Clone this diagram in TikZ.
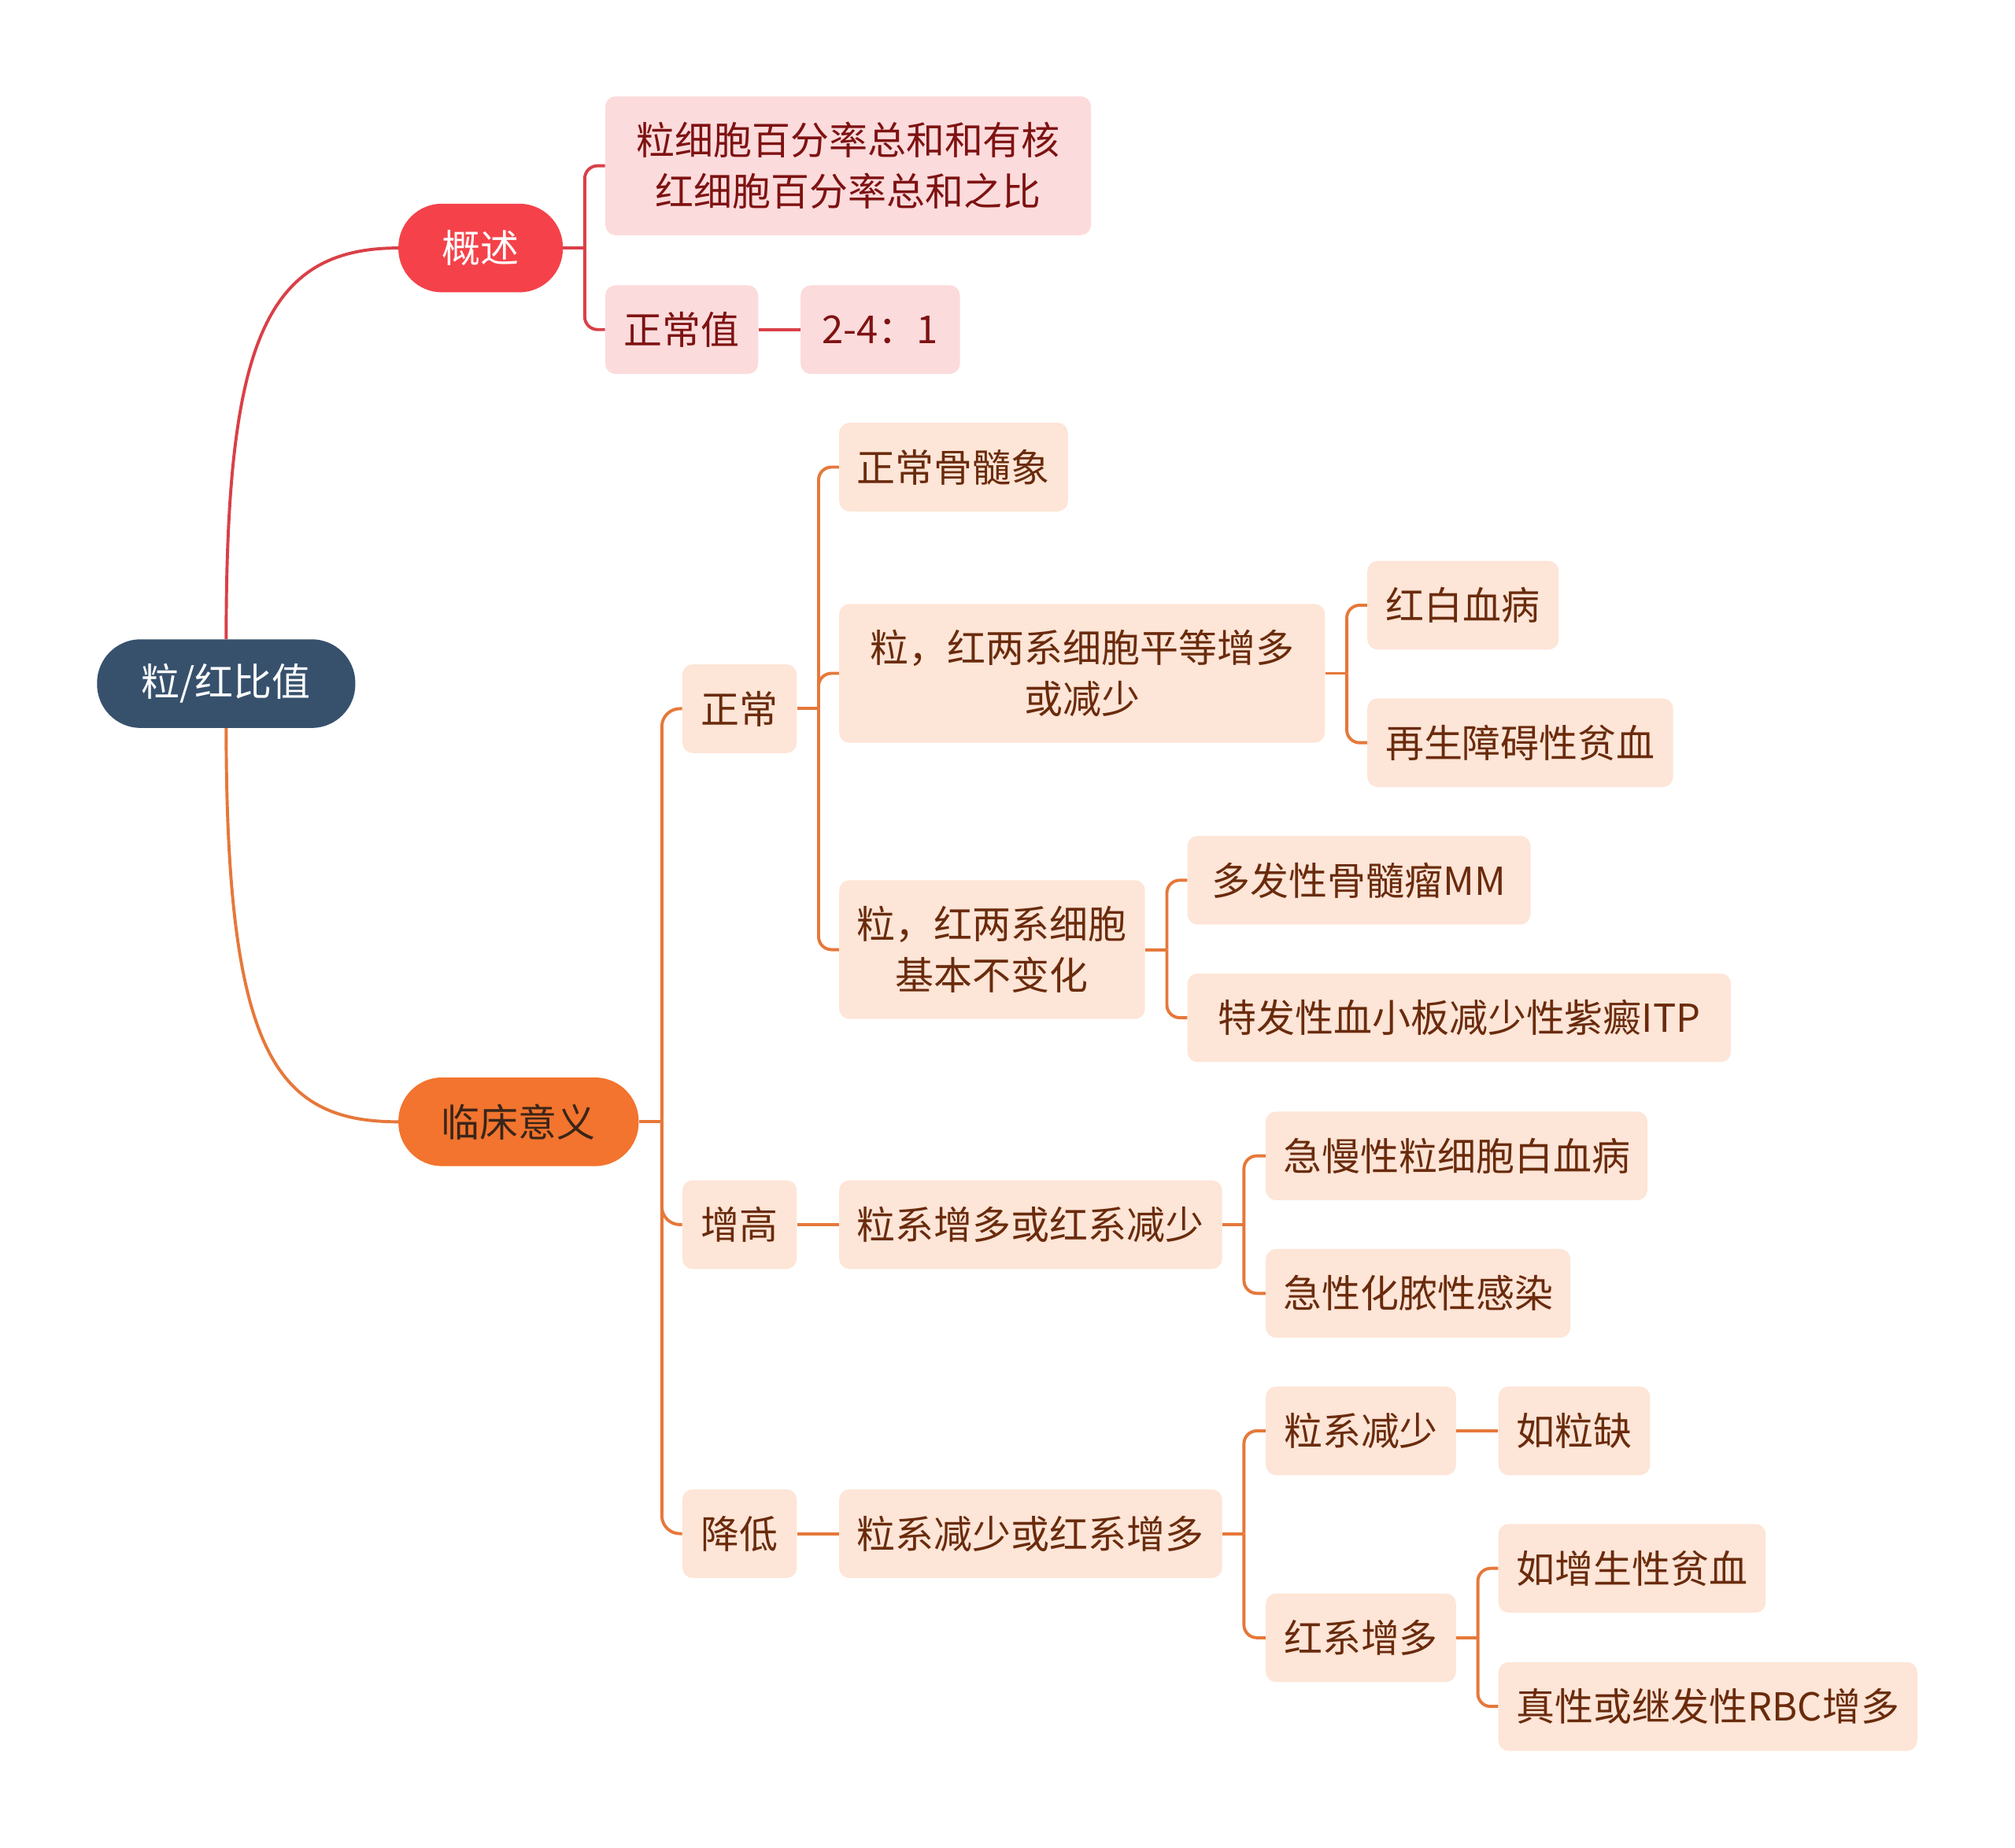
\documentclass[tikz,border=0pt]{standalone}
\usepackage{fontspec}
\setmainfont{Noto Sans CJK SC}
\definecolor{rootc}{HTML}{37516D}
\definecolor{redc}{HTML}{F5424A}
\definecolor{redline}{HTML}{D94048}
\definecolor{pinkc}{HTML}{FCDBDC}
\definecolor{redtxt}{HTML}{7E1212}
\definecolor{orgc}{HTML}{F2742E}
\definecolor{orgtxt}{HTML}{3A2518}
\definecolor{orgline}{HTML}{E6783A}
\definecolor{peachc}{HTML}{FDE5D7}
\definecolor{browntxt}{HTML}{6A2B0C}
\begin{document}
\begin{tikzpicture}[x=1pt,y=-1pt,
  base/.style={inner sep=0pt,align=center,font=\fontsize{30}{40}\selectfont},
  rootbox/.style={base,fill=rootc,text=white,rounded corners=34pt,minimum height=69pt},
  l1red/.style={base,fill=redc,text=white,rounded corners=34pt,minimum height=69pt},
  l1org/.style={base,fill=orgc,text=orgtxt,rounded corners=34pt,minimum height=69pt},
  pinkbox/.style={base,fill=pinkc,text=redtxt,rounded corners=8pt,minimum height=69pt},
  peachbox/.style={base,fill=peachc,text=browntxt,rounded corners=8pt,minimum height=69pt},
  rline/.style={draw=redline,line width=2.4pt},
  oline/.style={draw=orgline,line width=2.4pt},
  rc/.style={rounded corners=10pt}]
\useasboundingbox (0,0) rectangle (1568,1438);

% root and level 1
\node[rootbox,minimum width=201pt] (root) at (176,532) {粒/红比值};
\node[l1red,minimum width=128pt] (gs) at (374,193) {概述};
\node[l1org,minimum width=187pt] (lc) at (403.5,873) {临床意义};

% red branch
\node[pinkbox,minimum width=378pt,minimum height=108pt] (def) at (660,129) {粒细胞百分率总和和有核\\红细胞百分率总和之比};
\node[pinkbox,minimum width=119pt] (zcz) at (530.5,256.5) {正常值};
\node[pinkbox,minimum width=124pt] (val) at (685,256.5) {2-4：1};

% orange branch level 2
\node[peachbox,minimum width=89pt] (zc) at (575.5,551.5) {正常};
\node[peachbox,minimum width=89pt] (zg) at (575.5,953) {增高};
\node[peachbox,minimum width=89pt] (jd) at (575.5,1193.5) {降低};

% under 正常
\node[peachbox,minimum width=178pt] (gsx) at (742,363.5) {正常骨髓象};
\node[peachbox,minimum width=378pt,minimum height=108pt] (pd) at (842,524) {粒，红两系细胞平等增多\\或减少};
\node[peachbox,minimum width=238pt,minimum height=108pt] (bb) at (772,739) {粒，红两系细胞\\基本不变化};
\node[peachbox,minimum width=149pt] (hb) at (1138.5,471) {红白血病};
\node[peachbox,minimum width=238pt] (zs) at (1183,578) {再生障碍性贫血};
\node[peachbox,minimum width=267pt] (mm) at (1057.5,685) {多发性骨髓瘤MM};
\node[peachbox,minimum width=423pt] (itp) at (1135.5,792) {特发性血小板减少性紫癜ITP};

% under 增高
\node[peachbox,minimum width=298pt] (zd) at (802,953) {粒系增多或红系减少};
\node[peachbox,minimum width=297pt] (jm) at (1133.5,899.5) {急慢性粒细胞白血病};
\node[peachbox,minimum width=237pt] (hn) at (1103.5,1006.5) {急性化脓性感染};

% under 降低
\node[peachbox,minimum width=298pt] (jz) at (802,1193.5) {粒系减少或红系增多};
\node[peachbox,minimum width=148pt] (lj) at (1059,1113.5) {粒系减少};
\node[peachbox,minimum width=148pt] (hz) at (1059,1274.5) {红系增多};
\node[peachbox,minimum width=118pt] (rlq) at (1225,1113.5) {如粒缺};
\node[peachbox,minimum width=208pt] (zspx) at (1270,1220.5) {如增生性贫血};
\node[peachbox,minimum width=326pt] (rbc) at (1329,1328) {真性或继发性RBC增多};

% root curves
\draw[rline] (root.north) .. controls (176,270) and (205,193) .. (gs.west);
\draw[oline] (root.south) .. controls (176,820) and (215,873) .. (lc.west);

% 概述 bracket
\coordinate (t1) at (455,193);
\draw[rline] (gs.east) -- (t1);
\draw[rline,rc] (t1) |- (def.west);
\draw[rline,rc] (t1) |- (zcz.west);
\draw[rline] (zcz.east) -- (val.west);

% 临床意义 bracket
\coordinate (t2) at (515,873);
\draw[oline] (lc.east) -- (t2);
\draw[oline,rounded corners=14pt] (t2) |- (zc.west);
\draw[oline,rounded corners=14pt] (t2) |- (zg.west);
\draw[oline,rounded corners=14pt] (t2) |- (jd.west);

% 正常 bracket
\coordinate (t3) at (637,551.5);
\draw[oline] (zc.east) -- (t3);
\draw[oline,rc] (t3) |- (gsx.west);
\draw[oline,rc] (t3) |- (pd.west);
\draw[oline,rc] (t3) |- (bb.west);

% 平等 bracket
\coordinate (t4) at (1048,524);
\draw[oline] (pd.east) -- (t4);
\draw[oline,rc] (t4) |- (hb.west);
\draw[oline,rc] (t4) |- (zs.west);

% 基本不变化 bracket
\coordinate (t5) at (908,739);
\draw[oline] (bb.east) -- (t5);
\draw[oline,rc] (t5) |- (mm.west);
\draw[oline,rc] (t5) |- (itp.west);

% 增高
\draw[oline] (zg.east) -- (zd.west);
\coordinate (t6) at (968,953);
\draw[oline] (zd.east) -- (t6);
\draw[oline,rc] (t6) |- (jm.west);
\draw[oline,rc] (t6) |- (hn.west);

% 降低
\draw[oline] (jd.east) -- (jz.west);
\coordinate (t7) at (968,1193.5);
\draw[oline] (jz.east) -- (t7);
\draw[oline,rc] (t7) |- (lj.west);
\draw[oline,rc] (t7) |- (hz.west);
\draw[oline] (lj.east) -- (rlq.west);
\coordinate (t8) at (1150,1274.5);
\draw[oline] (hz.east) -- (t8);
\draw[oline,rc] (t8) |- (zspx.west);
\draw[oline,rc] (t8) |- (rbc.west);
\end{tikzpicture}
\end{document}
